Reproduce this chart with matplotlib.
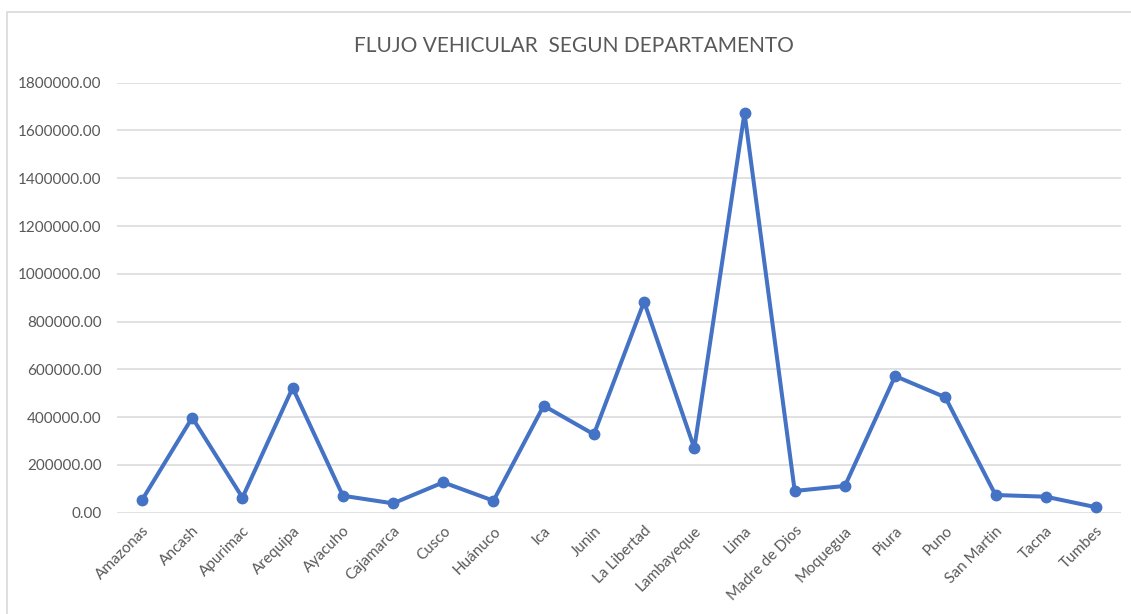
import matplotlib.pyplot as plt
from matplotlib.patches import Rectangle

departamentos = ["Amazonas", "Ancash", "Apurimac", "Arequipa", "Ayacuho", "Cajamarca",
                 "Cusco", "Huánuco", "Ica", "Junin", "La Libertad", "Lambayeque", "Lima",
                 "Madre de Dios", "Moquegua", "Piura", "Puno", "San Martin", "Tacna", "Tumbes"]
flujo = [53000, 398000, 63000, 523000, 71000, 39000, 127000, 50000, 448000, 328000,
         883000, 270000, 1674000, 91000, 112000, 572000, 483000, 74000, 67000, 23000]
y_ticks = list(range(0, 1800001, 200000))

plt.rcParams['font.family'] = ['Lato', 'DejaVu Sans']
gray = '#595959'

fig = plt.figure(figsize=(11.31, 6.14), dpi=100)
ax = fig.add_axes([0.1034, 0.165, 0.8878, 0.7003])

# chart border like the Excel chart area
fig.patches.append(Rectangle((7 / 1131, -0.05), 1.2, 1 - 12 / 614 + 0.05,
                             transform=fig.transFigure, fill=False,
                             edgecolor='#d9d9d9', linewidth=1.2))

x = list(range(len(departamentos)))
ax.plot(x, flujo, color='#4472C4', linewidth=2.9, marker='o', markersize=7.5, zorder=3)

ax.set_xlim(-0.5, len(departamentos) - 0.5)
ax.set_ylim(0, 1800000)
ax.set_yticks(y_ticks)
ax.set_yticklabels([f"{v:.2f}" for v in y_ticks])
ax.set_xticks(x)
ax.set_xticklabels(departamentos, rotation=45, ha='right', rotation_mode='anchor')

ax.grid(axis='y', color='#d9d9d9', linewidth=1.1)
ax.set_axisbelow(True)
for s in ax.spines.values():
    s.set_visible(False)
ax.tick_params(length=0, colors=gray, labelsize=11)
ax.tick_params(axis='x', pad=8)
ax.tick_params(axis='y', pad=11)

fig.text(0.5075, 0.925, "FLUJO VEHICULAR  SEGUN DEPARTAMENTO", ha='center', va='center',
         fontsize=15, color=gray)

fig.savefig("out.png", dpi=100)
